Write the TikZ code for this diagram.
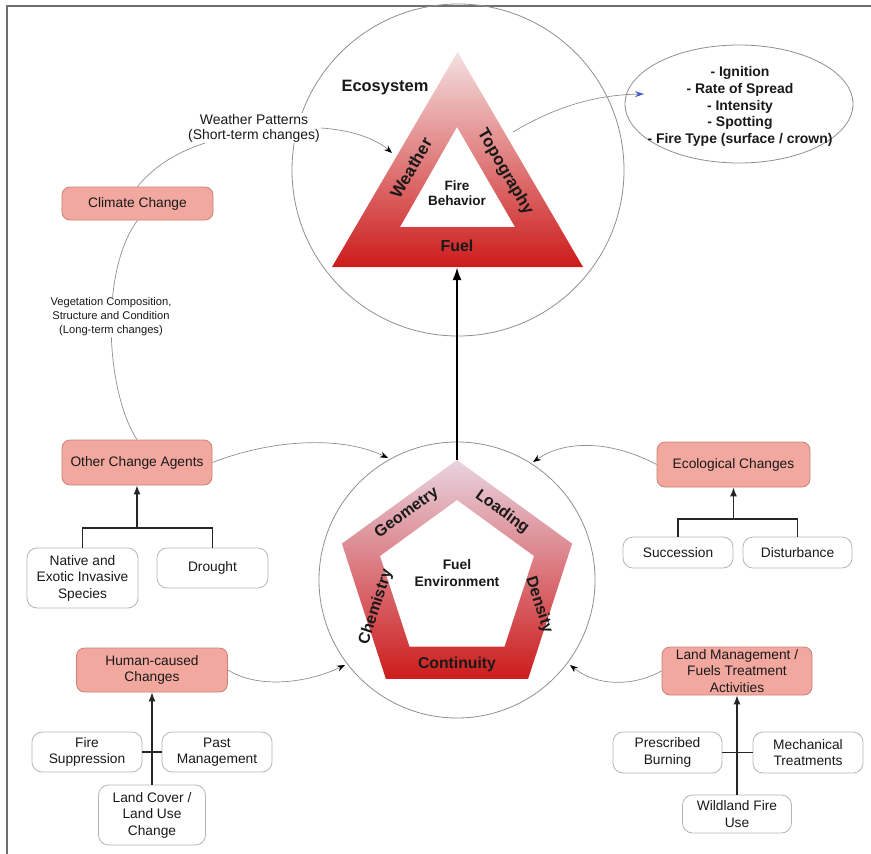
\documentclass[tikz,border=0pt]{standalone}
\usepackage{fontspec}
\setmainfont{Liberation Sans}
\usetikzlibrary{arrows.meta,backgrounds,shapes.geometric}
\definecolor{pinkfill}{RGB}{242,168,158}
\definecolor{pinkline}{RGB}{200,130,120}
\definecolor{boxline}{RGB}{185,180,180}
\definecolor{conngray}{RGB}{150,140,140}
\definecolor{txt}{RGB}{25,25,25}
\definecolor{redA}{RGB}{205,28,28}
\definecolor{midA}{RGB}{222,110,110}
\definecolor{paleA}{RGB}{244,224,224}
\definecolor{paleB}{RGB}{232,212,224}
\definecolor{midB}{RGB}{216,120,126}
\definecolor{framegray}{RGB}{110,110,110}
\definecolor{bluetip}{RGB}{60,95,200}
\newcommand\bxfnt{\fontsize{13.8}{16.6}\selectfont}
\newcommand\elfnt{\bfseries\fontsize{14}{16.7}\selectfont}
\begin{document}
\begin{tikzpicture}[x=1bp,y=-1bp,text=txt,
  pinkbox/.style={draw=pinkline,fill=pinkfill,rounded corners=8bp,line width=0.8bp,inner sep=0pt,align=center,font=\bxfnt},
  whitebox/.style={draw=boxline,fill=white,rounded corners=10bp,line width=0.8bp,inner sep=0pt,align=center,font=\bxfnt},
  conn/.style={draw=conngray,line width=0.7bp},
  tipk/.style={-{Stealth[length=8bp,width=6bp,color=black]}},
  treeline/.style={draw=black!85,line width=1.2bp},
  treearrow/.style={draw=black!85,line width=1.2bp,-{Latex[length=9bp,width=7bp]}},
  circ/.style={draw=conngray,line width=0.8bp,circle,inner sep=0pt},
  lbl/.style={font=\bfseries\fontsize{16.5}{18}\selectfont,inner sep=0pt}]
\useasboundingbox (0,0) rectangle (871,854);
% frame
\draw[framegray,line width=2bp] (7,854) -- (7,6) -- (871,6);

% circles
\node[circ,minimum size=332bp] (topc) at (458,170) {};
\node[circ,minimum size=276bp] (botc) at (457,580) {};

% triangle
\shade[top color=paleA,middle color=midA,bottom color=redA,even odd rule]
  (457.5,52) -- (583,267) -- (332,267) -- cycle
  (457,127) -- (515,227) -- (400,227) -- cycle;
% pentagon
\shade[top color=paleB,middle color=midB,bottom color=redA,even odd rule]
  (457,460) -- (572.1,543.6) -- (528.1,678.9) -- (385.9,678.9) -- (341.9,543.6) -- cycle
  (457,500) -- (534,556) -- (504.6,646.5) -- (409.4,646.5) -- (380,556) -- cycle;

% triangle labels
\node[lbl] (eco) at (385,88) {Ecosystem};
\node[lbl,font=\bfseries\fontsize{17}{18}\selectfont,rotate=60] (wea) at (411,168) {Weather};
\node[lbl,font=\bfseries\fontsize{16.8}{18}\selectfont,rotate=-60] (top) at (505,172) {Topography};
\node[lbl,font=\bfseries\fontsize{13.6}{15.7}\selectfont,align=center] (fb) at (457,193) {Fire\\Behavior};
\node[lbl,font=\bfseries\fontsize{16}{18}\selectfont] (fuel) at (457,246) {Fuel};

% pentagon labels
\node[lbl,font=\bfseries\fontsize{16}{18}\selectfont,rotate=36] (geo) at (407,513) {Geometry};
\node[lbl,font=\bfseries\fontsize{16}{18}\selectfont,rotate=-36] (loa) at (502,512) {Loading};
\node[lbl,font=\bfseries\fontsize{16}{18}\selectfont,rotate=72] (che) at (376,607) {Chemistry};
\node[lbl,font=\bfseries\fontsize{16}{18}\selectfont,rotate=-72] (den) at (539,605) {Density};
\node[lbl,font=\bfseries\fontsize{15.8}{18}\selectfont] (con) at (457,664) {Continuity};
\node[lbl,font=\bfseries\fontsize{13.9}{16.7}\selectfont,align=center] (fenv) at (457,573) {Fuel\\Environment};

% ellipse
\node[ellipse,draw=conngray,line width=0.8bp,minimum width=228bp,minimum height=118bp] (ell) at (739,104) {};
\node[font=\elfnt,align=center,inner sep=0pt] (eff) at (740,106.5) {- Ignition\\- Rate of Spread\\- Intensity\\- Spotting\\- Fire Type (surface / crown)};

% pink boxes
\node[pinkbox,minimum width=151bp,minimum height=33bp] (cc) at (137.5,203.5) {Climate Change};
\node[pinkbox,minimum width=150bp,minimum height=45bp] (oca) at (137,462.5) {Other Change Agents};
\node[pinkbox,minimum width=151bp,minimum height=44bp] (hcc) at (152,670) {Human-caused\\Changes};
\node[pinkbox,minimum width=153bp,minimum height=45bp] (ec) at (733.5,464.5) {Ecological Changes};
\node[pinkbox,minimum width=150bp,minimum height=48bp] (lm) at (737,671) {Land Management /\\Fuels Treatment\\Activities};

% white boxes
\node[whitebox,minimum width=111bp,minimum height=60bp] (nat) at (82.5,578) {Native and\\Exotic Invasive\\Species};
\node[whitebox,minimum width=111bp,minimum height=40bp] (dro) at (212.5,568) {Drought};
\node[whitebox,minimum width=110bp,minimum height=40bp] (fs) at (87,752) {Fire\\Suppression};
\node[whitebox,minimum width=110bp,minimum height=40bp] (pm) at (217,752) {Past\\Management};
\node[whitebox,minimum width=107bp,minimum height=60bp] (lc) at (152,815) {Land Cover /\\Land Use\\Change};
\node[whitebox,minimum width=110bp,minimum height=31bp] (suc) at (678,552.5) {Succession};
\node[whitebox,minimum width=109bp,minimum height=31bp] (dis) at (797.5,552.5) {Disturbance};
\node[whitebox,minimum width=109bp,minimum height=41bp] (pb) at (667.5,752.5) {Prescribed\\Burning};
\node[whitebox,minimum width=110bp,minimum height=41bp] (mt) at (808,752.5) {Mechanical\\Treatments};
\node[whitebox,minimum width=109bp,minimum height=38bp] (wf) at (737,814) {Wildland Fire\\Use};

% text labels on connectors
\node[font=\fontsize{14}{15}\selectfont,align=center,fill=white,inner sep=1bp] (wp) at (254,128) {Weather Patterns\\(Short-term changes)};
\node[font=\fontsize{11.2}{14}\selectfont,align=center,fill=white,inner sep=1bp] (veg) at (111,317) {Vegetation Composition,\\Structure and Condition\\(Long-term changes)};

% coordinates
\coordinate (wtip) at (392,153);
\coordinate (tstart) at (513,132);
\coordinate (etip) at (644,94);
\coordinate (t1) at (388,458);
\coordinate (t2) at (533,462);
\coordinate (t3) at (345,665);
\coordinate (t4) at (570,665);
\coordinate (pentop) at (457,460);
\coordinate (tribase) at (457,267);
\coordinate (j1) at (137,528);
\coordinate (j3) at (733.5,519);

% connectors under boxes
\begin{pgfonlayer}{background}
\draw[conn] (oca.north) .. controls (105,390) and (100,270) .. (cc.south);
\draw[conn] (cc.north) .. controls (155,165) and (180,150) .. (212,141);
\end{pgfonlayer}

\draw[conn,tipk] (wp.east) .. controls (350,130) and (375,138) .. (wtip);
\draw[conn,-{Stealth[length=9bp,width=6bp,color=bluetip]}] (tstart) .. controls (550,110) and (590,95) .. (etip);
\draw[conn,tipk] (oca.east) .. controls (270,440) and (340,435) .. (t1);
\draw[conn,tipk] (ec.west) .. controls (610,440) and (565,440) .. (t2);
\draw[conn,tipk] (hcc.east) .. controls (260,690) and (310,682) .. (t3);
\draw[conn,tipk] (lm.west) .. controls (630,688) and (595,685) .. (t4);

% main arrow
\draw[black,line width=2.4bp,-{Latex[length=13bp,width=9bp]}] (pentop) -- (tribase);

% trees
\draw[treeline] (nat.north) |- (j1) -| (dro.north);
\draw[treearrow] (j1) -- (oca.south);
\draw[treeline] (fs.east) -- (pm.west);
\draw[treearrow] (lc.north) -- (hcc.south);
\draw[treeline] (suc.north) |- (j3) -| (dis.north);
\draw[treearrow] (j3) -- (ec.south);
\draw[treeline] (pb.east) -- (mt.west);
\draw[treearrow] (wf.north) -- (lm.south);
\end{tikzpicture}
\end{document}
